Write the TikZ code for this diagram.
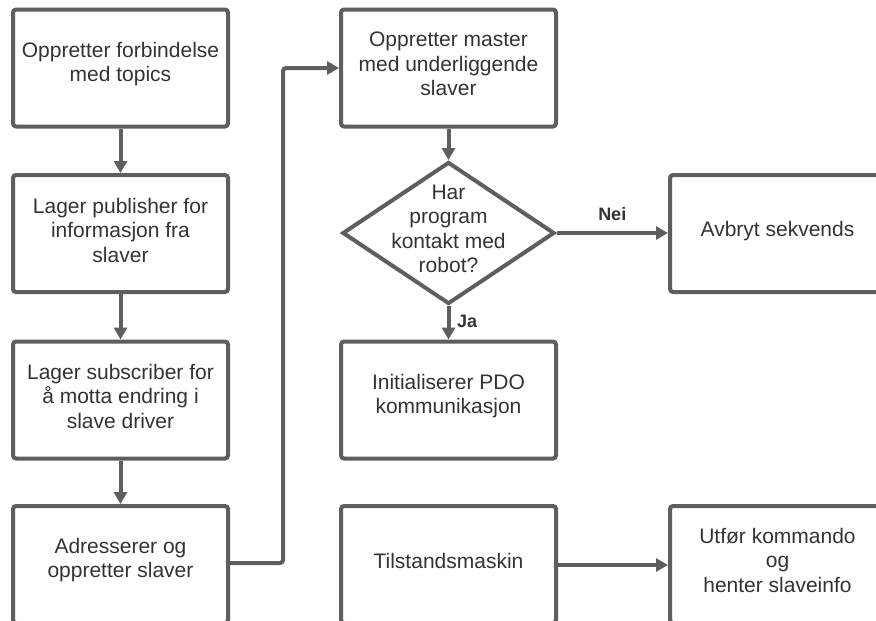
\documentclass[tikz,border=0pt]{standalone}
\usepackage{fontspec}
\setmainfont{Liberation Sans}
\usetikzlibrary{shapes.geometric,arrows.meta}
\definecolor{ln}{RGB}{94,94,94}
\definecolor{tx}{RGB}{51,51,51}
\begin{document}
\begin{tikzpicture}[x=1pt,y=-1pt,
  box/.style={draw=ln, line width=4pt, rounded corners=3pt, minimum width=215pt, minimum height=117pt, inner sep=0pt},
  txt/.style={align=center, text=tx, font=\fontsize{21}{24.5}\selectfont, inner sep=0pt},
  decision/.style={draw=ln, line width=4pt, diamond, minimum width=212pt, minimum height=142pt, inner sep=0pt},
  arr/.style={draw=ln, line width=4pt, -{Triangle[length=12pt,width=13pt]}},
  lab/.style={text=tx, font=\bfseries\fontsize{18}{21}\selectfont, inner sep=0pt}]
\useasboundingbox (0,0) rectangle (876,621);
\clip (0,0) rectangle (876,621);
% left column
\node[box] (a1) at (120.5,68) {};
\node[txt] (t1) at (120.5,64) {Oppretter forbindelse\\med topics};
\node[box] (a2) at (120.5,233.5) {};
\node[txt] (t2) at (120.5,230) {Lager publisher for\\informasjon fra\\slaver};
\node[box] (a3) at (120.5,400) {};
\node[txt] (t3) at (120.5,396) {Lager subscriber for\\å motta endring i\\slave driver};
\node[box] (a4) at (120.5,564.5) {};
\node[txt] (t4) at (120.5,560) {Adresserer og\\oppretter slaver};
% middle column
\node[box] (b1) at (448.5,68) {};
\node[txt] (u1) at (448.5,64) {Oppretter master\\med underliggende\\slaver};
\node[decision] (d) at (448.5,233) {};
\node[txt] (ud) at (448.5,229) {Har\\program\\kontakt med\\robot?};
\node[box] (b3) at (448.5,400) {};
\node[txt] (u3) at (448.5,396) {Initialiserer PDO\\kommunikasjon};
\node[box] (b4) at (448.5,564.5) {};
\node[txt] (u4) at (448.5,561) {Tilstandsmaskin};
% right column
\node[box] (c1) at (777.5,233.5) {};
\node[txt] (v1) at (777.5,231) {Avbryt sekvends};
\node[box] (c4) at (777.5,564.5) {};
\node[txt] (v4) at (777.5,560) {Utfør kommando\\og\\henter slaveinfo};
% connectors
\draw[arr] (a1) -- (a2);
\draw[arr] (a2) -- (a3);
\draw[arr] (a3) -- (a4);
\coordinate (k1) at (283,563);
\coordinate (k2) at (283,68);
\draw[arr, rounded corners=3pt] (a4.east |- k1) -- (k1) -- (k2) -- (b1.west);
\draw[arr] (b1) -- (d.north);
\draw[arr] (d.south) -- (b3) node[lab, pos=0.45, right=6.5pt] (ja) {Ja};
\draw[arr] (d.east) -- (c1.west |- d.east) node[lab, pos=0.5, above=10pt] (nei) {Nei};
\draw[arr] (b4.east |- 0,565) -- (c4.west |- 0,565);
\end{tikzpicture}
\end{document}
